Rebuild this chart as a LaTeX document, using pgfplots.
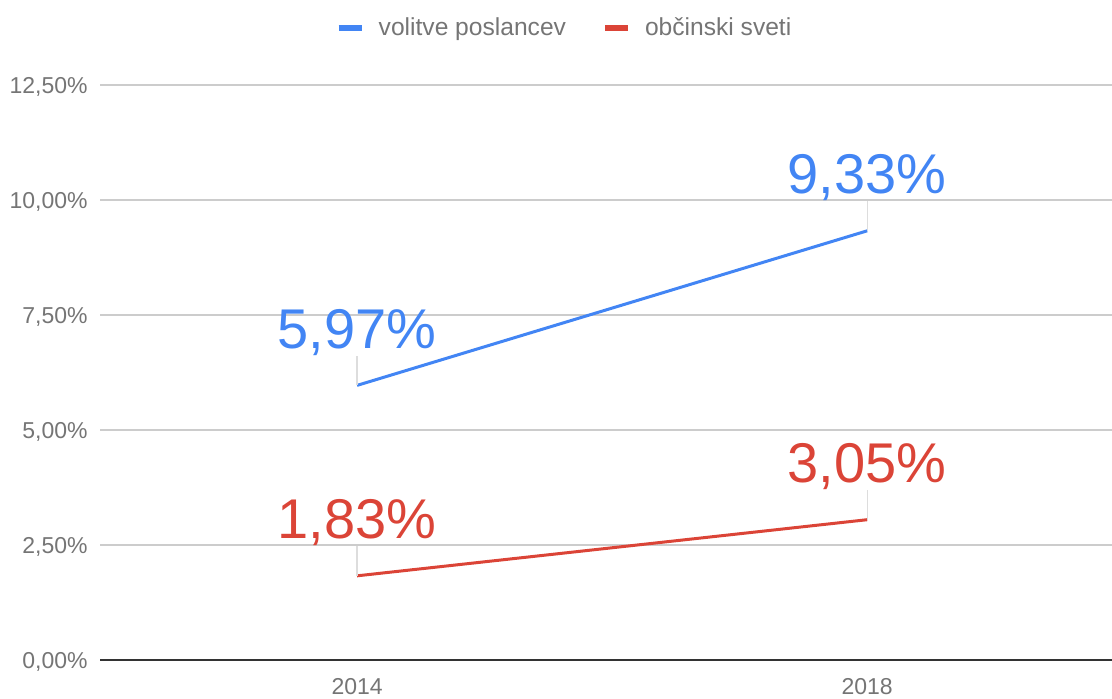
\documentclass[border=0pt]{standalone}
\usepackage{fontspec}
\setmainfont{Liberation Sans}
\usepackage{pgfplots}
\pgfplotsset{compat=1.18}
\definecolor{gblue}{HTML}{4285F4}
\definecolor{gred}{HTML}{DB4437}
\definecolor{tickgray}{HTML}{757575}
\definecolor{gridgray}{HTML}{CCCCCC}
\definecolor{basegray}{HTML}{333333}
\definecolor{leadgray}{HTML}{DDDDDD}
\begin{document}
\begin{tikzpicture}
\begin{axis}[
  scale only axis,
  width=506pt, height=287.5pt,
  xmin=-0.504, xmax=1.48,
  ymin=0, ymax=12.5,
  /pgf/number format/assume math mode=true,
  xtick={0,1}, xticklabels={2014,2018},
  ytick={0,2.5,5,7.5,10,12.5},
  yticklabel={\pgfmathprintnumber[fixed,fixed zerofill,precision=2,use comma]{\tick}\%},
  major tick length=0pt,
  axis x line*=bottom, axis y line*=left,
  y axis line style={draw=none},
  x axis line style={draw=basegray, line width=1pt},
  ymajorgrids, grid style={gridgray, line width=0.6pt},
  tick label style={font=\fontsize{11.5}{12}\selectfont, text=tickgray},
  xticklabel style={anchor=north, inner sep=0pt, yshift=-9pt},
  yticklabel style={anchor=base east, inner sep=0pt, xshift=-6pt, yshift=-4.1pt},
  clip=false,
  legend style={at={(0.46,1.099)}, anchor=center, draw=none, fill=none,
    legend columns=2, font=\fontsize{12.3}{13}\selectfont, text=tickgray,
    /tikz/every odd column/.append style={column sep=5pt},
    /tikz/every even column/.append style={column sep=16pt}},
  legend image code/.code={\draw[line width=3pt] (0pt,0pt) -- (11.5pt,0pt);},
  point meta=y,
  nodes near coords={\pgfmathprintnumber[fixed,fixed zerofill,precision=2,use comma]{\pgfplotspointmeta}\%},
  every node near coord/.append style={anchor=base, yshift=18.5pt, inner sep=0pt, font=\fontsize{28}{30}\selectfont},
]
\addplot[color=gblue, line width=1.5pt, mark=none,
  every node near coord/.append style={text=gblue},
  error bars/.cd, y dir=plus, y fixed=0.64, error mark=none,
  error bar style={leadgray, line width=0.6pt}]
  coordinates {(0,5.97) (1,9.33)};
\addlegendentry{volitve poslancev}
\addplot[color=gred, line width=1.5pt, mark=none,
  every node near coord/.append style={text=gred},
  error bars/.cd, y dir=plus, y fixed=0.64, error mark=none,
  error bar style={leadgray, line width=0.6pt}]
  coordinates {(0,1.83) (1,3.05)};
\addlegendentry{občinski sveti}
\end{axis}
\pgfresetboundingbox
\path ([shift={(-50pt,-19pt)}]current axis.south west) rectangle ([shift={(0pt,42.5pt)}]current axis.north east);
\end{tikzpicture}
\end{document}
